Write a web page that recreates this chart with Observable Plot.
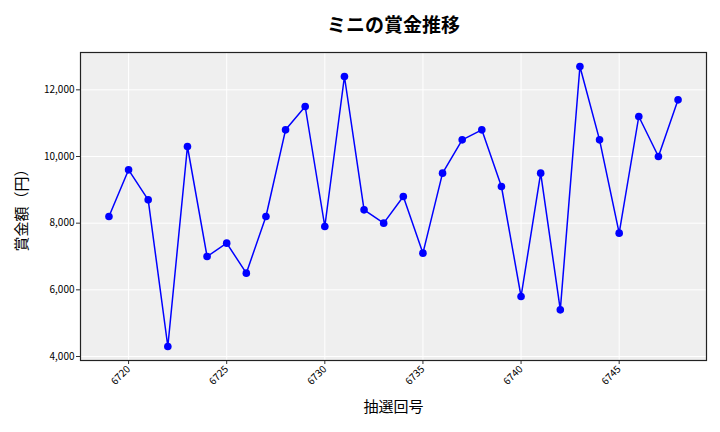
<!DOCTYPE html>
<html>
<head>
<meta charset="utf-8">
<script src="https://cdn.jsdelivr.net/npm/d3@7"></script>
<script src="https://cdn.jsdelivr.net/npm/@observablehq/plot@0.6"></script>
<style>
  html, body { margin: 0; padding: 0; background: #fff; }
  #chart svg { display: block; }
</style>
</head>
<body>
<div id="chart"></div>
<script>
const title = "ミニの賞金推移";
const xLabel = "抽選回号";
const yLabel = "賞金額（円）";
const draws = [6719,6720,6721,6722,6723,6724,6725,6726,6727,6728,6729,6730,6731,6732,6733,6734,6735,6736,6737,6738,6739,6740,6741,6742,6743,6744,6745,6746,6747,6748];
const prizes = [8200,9600,8700,4300,10300,7000,7400,6500,8200,10800,11500,7900,12400,8400,8000,8800,7100,9500,10500,10800,9100,5800,9500,5400,12700,10500,7700,11200,10000,11700];
const xTicks = [6720,6725,6730,6735,6740,6745];
const yTicks = [4000,6000,8000,10000,12000];

const data = draws.map((d, i) => ({draw: d, prize: prizes[i]}));
const font = "'Noto Sans CJK JP', 'Noto Sans', sans-serif";

const chart = Plot.plot({
  width: 720,
  height: 432,
  marginTop: 52,
  marginLeft: 80,
  marginRight: 14,
  marginBottom: 72,
  style: {fontFamily: font, fontSize: "10px", color: "#000", background: "#fff"},
  x: {domain: [6717.55, 6749.45], label: null},
  y: {domain: [3880, 13120], label: null},
  marks: [
    Plot.frame({fill: "#efefef", stroke: null}),
    Plot.gridX(xTicks, {stroke: "#fff", strokeOpacity: 1, strokeWidth: 1}),
    Plot.gridY(yTicks, {stroke: "#fff", strokeOpacity: 1, strokeWidth: 1}),
    Plot.axisX(xTicks, {tickRotate: -45, tickSize: 4, tickPadding: 3, fontSize: 10, tickFormat: d => String(d), stroke: "#333"}),
    Plot.axisY(yTicks, {tickSize: 4, tickPadding: 2, fontSize: 10, tickFormat: d3.format(","), stroke: "#333"}),
    Plot.line(data, {x: "draw", y: "prize", stroke: "#0000ff", strokeWidth: 1.5}),
    Plot.dot(data, {x: "draw", y: "prize", fill: "#0000ff", r: 3.8, stroke: null}),
    Plot.frame({stroke: "#222", strokeWidth: 1.2}),
    Plot.text([title], {frameAnchor: "top", lineAnchor: "middle", textAnchor: "middle", dy: -27, fontSize: 19, fontWeight: "bold", fill: "#000", text: d => d}),
    Plot.text([xLabel], {frameAnchor: "bottom", lineAnchor: "middle", textAnchor: "middle", dy: 47, fontSize: 15, fill: "#000", text: d => d}),
    Plot.text([yLabel], {frameAnchor: "left", lineAnchor: "middle", textAnchor: "middle", dx: -58, rotate: -90, fontSize: 15, fill: "#000", text: d => d})
  ]
});
document.getElementById("chart").appendChild(chart);
</script>
</body>
</html>
